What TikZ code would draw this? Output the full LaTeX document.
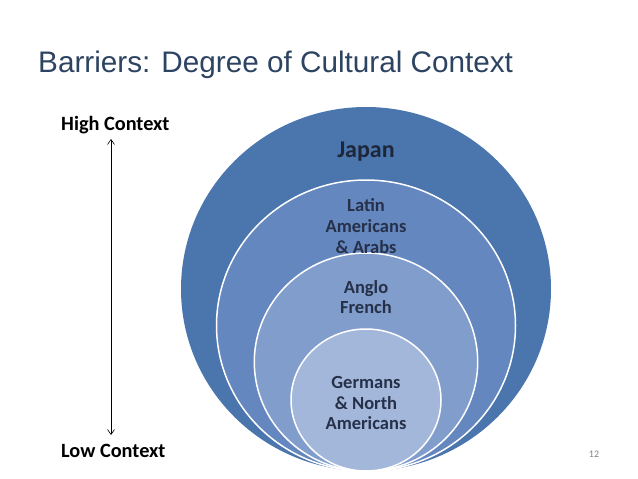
\documentclass[tikz,border=0pt]{standalone}
\usepackage{fontspec}
\setmainfont{Carlito}
\newfontfamily\titlefont{Liberation Sans}
\definecolor{ringa}{HTML}{4A75AD}
\definecolor{ringb}{HTML}{6487BF}
\definecolor{ringc}{HTML}{819DCB}
\definecolor{ringd}{HTML}{A3B7DB}
\definecolor{navytext}{HTML}{263149}
\definecolor{titleblue}{HTML}{2C4361}
\usetikzlibrary{arrows.meta}

\begin{document}
\begin{tikzpicture}[x=1pt, y=-1pt,
  ring/.style={draw=white, line width=1.5pt},
  rlabel/.style={align=center, text=navytext, font=\bfseries\fontsize{18.5}{20.7}\selectfont},
  ctxlabel/.style={anchor=base west, font=\bfseries\fontsize{20.3}{24}\selectfont},
  ctxarrow/.style={{Straight Barb[length=5pt,width=7pt]}-{Straight Barb[length=5pt,width=7pt]}, line width=0.6pt},
]
\useasboundingbox (0,0) rectangle (638,479);

% title
\node[anchor=base west, text=titleblue, font=\titlefont\fontsize{29.7}{34}\selectfont, inner sep=0pt]
  (title) at (38,72) {Barriers: Degree of Cultural Context};

% nested circles
\fill[ringa] (366,289) ellipse [x radius=185, y radius=182];
\draw[ring, fill=ringb] (366,325.5) ellipse [x radius=149.5, y radius=145.5];
\draw[ring, fill=ringc] (366,362) ellipse [x radius=111.7, y radius=109];
\draw[ring, fill=ringd] (366,400) ellipse [x radius=75, y radius=71];

\node[rlabel, font=\bfseries\fontsize{24}{28}\selectfont, text=navytext!80!black] (japan) at (366,152) {Japan};
\node[rlabel] (latin) at (366,226) {Latin\\Americans\\\& Arabs};
\node[rlabel] (anglo) at (366,297) {Anglo\\French};
\node[rlabel] (germans) at (366,403) {Germans\\\& North\\Americans};

% context scale
\node[ctxlabel, inner sep=0pt] (high) at (61,130) {High Context};
\node[ctxlabel, inner sep=0pt] (low) at (61,457) {Low Context};
\coordinate (hightip) at (111,139);
\coordinate (lowtip) at (111,435);
\draw[ctxarrow] (hightip) -- (lowtip);

\node[text=gray, font=\fontsize{10}{12}\selectfont] (pagenum) at (594,454) {12};
\end{tikzpicture}
\end{document}
